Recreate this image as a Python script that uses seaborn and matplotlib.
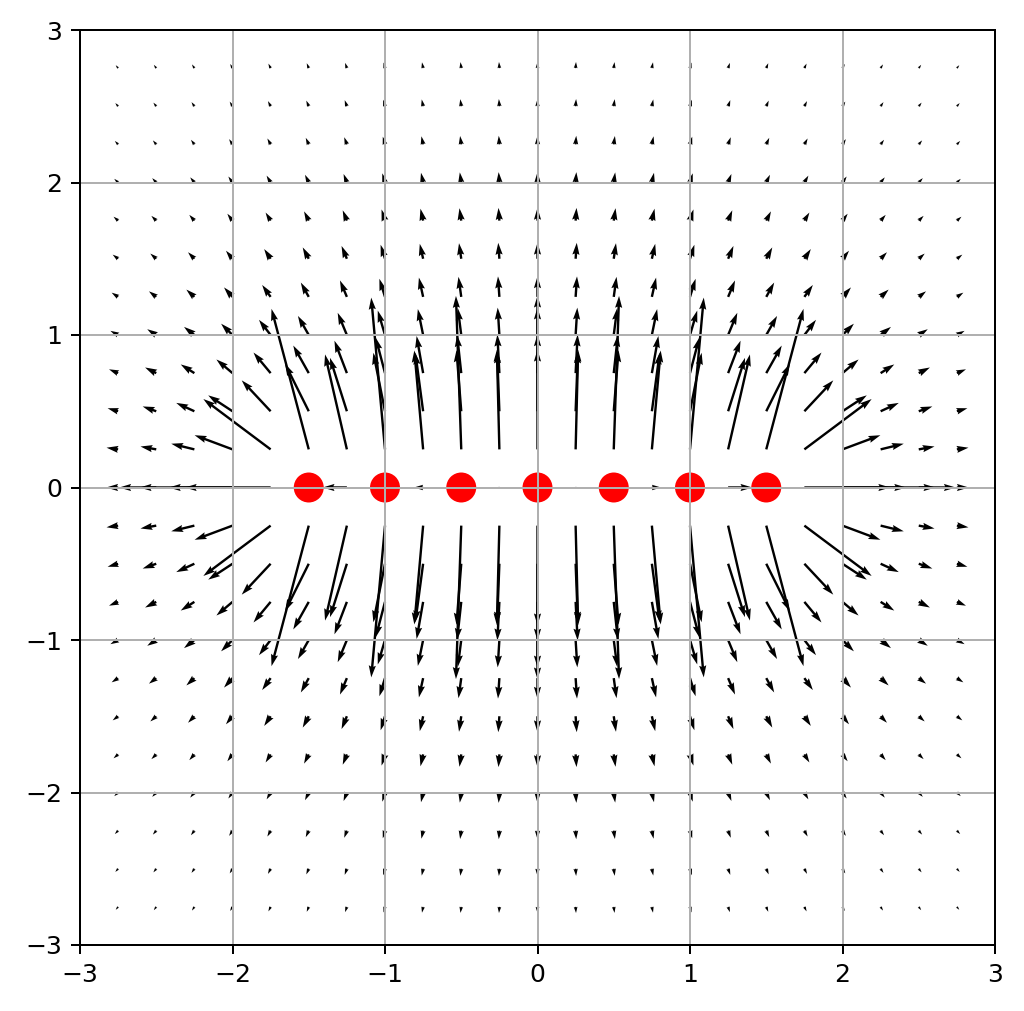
import numpy as np
import pandas as pd
import matplotlib
matplotlib.use("Agg")
import matplotlib.pyplot as plt
import seaborn as sns

# Point charges (positions along y = 0, unit charges)
charge_x = [-1.5, -1.0, -0.5, 0.0, 0.5, 1.0, 1.5]
charge_y = [0.0, 0.0, 0.0, 0.0, 0.0, 0.0, 0.0]
charge_q = [1, 1, 1, 1, 1, 1, 1]

# Sample grid for the field arrows
grid_x = [-2.75, -2.5, -2.25, -2.0, -1.75, -1.5, -1.25, -1.0, -0.75, -0.5, -0.25, 0.0,
          0.25, 0.5, 0.75, 1.0, 1.25, 1.5, 1.75, 2.0, 2.25, 2.5, 2.75]
grid_y = list(grid_x)

ticks = [-3, -2, -1, 0, 1, 2, 3]

sns.set_style("white")
s = 1.8
plt.rcParams.update({
    "font.size": 10 * s,
    "axes.linewidth": 0.8 * s,
    "xtick.major.size": 3.5 * s,
    "ytick.major.size": 3.5 * s,
    "xtick.major.width": 0.8 * s,
    "ytick.major.width": 0.8 * s,
    "xtick.major.pad": 3.5 * s,
    "ytick.major.pad": 3.5 * s,
    "xtick.direction": "out",
    "ytick.direction": "out",
    "xtick.bottom": True,
    "ytick.left": True,
    "axes.edgecolor": "black",
    "grid.color": "#b0b0b0",
    "grid.linewidth": 0.8 * s,
    "axes.axisbelow": "line",
    "xtick.color": "black",
    "ytick.color": "black",
})
plt.rcParams["font.family"] = ["DejaVu Sans"]

X, Y = np.meshgrid(np.array(grid_x), np.array(grid_y))
Ex = np.zeros_like(X)
Ey = np.zeros_like(Y)
with np.errstate(divide="ignore", invalid="ignore"):
    for cx, cy, q in zip(charge_x, charge_y, charge_q):
        dx = X - cx
        dy = Y - cy
        r3 = (dx ** 2 + dy ** 2) ** 1.5
        Ex += q * dx / r3
        Ey += q * dy / r3

fig = plt.figure(figsize=(10.24, 10.11), dpi=100)
ax = fig.add_axes([80 / 1024, (1011 - 945) / 1011, 915 / 1024, 915 / 1011])

ax.quiver(X, Y, Ex, Ey, angles="xy", scale_units="xy", scale=19.3, color="black")

df = pd.DataFrame({"x": charge_x, "y": charge_y})
sns.scatterplot(data=df, x="x", y="y", ax=ax, s=466, color="red",
                edgecolor="none", linewidth=0, zorder=1, legend=False)

ax.set_xlim(-3, 3)
ax.set_ylim(-3, 3)
ax.set_xticks(ticks)
ax.set_yticks(ticks)
ax.set_xlabel("")
ax.set_ylabel("")
ax.grid(True)
for sp in ax.spines.values():
    sp.set_visible(True)

fig.savefig("out.png", dpi=100)
